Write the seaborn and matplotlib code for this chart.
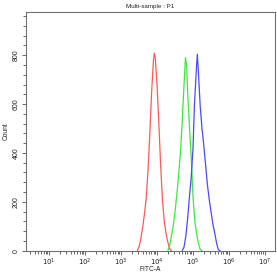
import numpy as np
import pandas as pd
import matplotlib
matplotlib.use("Agg")
import matplotlib.pyplot as plt
import seaborn as sns
from matplotlib.ticker import LogLocator, MultipleLocator, FixedLocator

# log10(FITC-A) bin positions and counts
red_log = [3.45, 3.50, 3.55, 3.60, 3.65, 3.70, 3.75, 3.80, 3.85, 3.90, 3.925, 3.95,
           4.00, 4.05, 4.10, 4.15, 4.20, 4.25, 4.30, 4.35, 4.40]
red_cnt = [0, 15, 50, 95, 150, 215, 330, 480, 650, 780, 808, 790,
           680, 520, 350, 210, 120, 70, 35, 8, 0]

green_log = [4.30, 4.35, 4.40, 4.45, 4.50, 4.55, 4.60, 4.65, 4.70, 4.75, 4.79, 4.82,
             4.85, 4.90, 4.95, 5.00, 5.05, 5.10, 5.15, 5.20, 5.25]
green_cnt = [0, 20, 60, 100, 160, 230, 310, 400, 530, 680, 790, 760,
             650, 510, 380, 220, 120, 70, 30, 5, 0]

blue_log = [4.70, 4.75, 4.80, 4.85, 4.90, 4.95, 5.00, 5.04, 5.07, 5.10, 5.12, 5.15,
            5.20, 5.25, 5.30, 5.35, 5.40, 5.45, 5.50, 5.55, 5.60, 5.65, 5.70, 5.75]
blue_cnt = [0, 15, 60, 130, 220, 300, 420, 600, 680, 760, 804, 730,
            590, 500, 430, 350, 270, 210, 160, 110, 75, 35, 5, 0]

series_names = ["red", "green", "blue"]
series_colors = ["#ff5a5a", "#3ee83e", "#4a4aff"]

y_major = [0, 200, 400, 600, 800]
title_text = "Multi-sample : P1"
xlabel_text = "FITC-A"
ylabel_text = "Count"

rows = []
for name, lx, cy in [("red", red_log, red_cnt), ("green", green_log, green_cnt),
                     ("blue", blue_log, blue_cnt)]:
    for a, b in zip(lx, cy):
        rows.append({"x": 10 ** a, "count": b, "series": name})
df = pd.DataFrame(rows)

sns.set_theme(style="ticks")
plt.rcParams["font.family"] = ["Liberation Sans", "DejaVu Sans"]

fig = plt.figure(figsize=(2.77, 2.75), dpi=100)
ax = fig.add_axes([0.0928, 0.0884, 0.9002, 0.8691])

sns.lineplot(data=df, x="x", y="count", hue="series", hue_order=series_names,
             palette=series_colors, legend=False, linewidth=0.9, ax=ax,
             estimator=None, sort=False)

ax.set_xscale("log")
ax.set_xlim(10 ** 0.35, 10 ** 7.28)
ax.set_ylim(0, 978)

ax.xaxis.set_minor_locator(LogLocator(base=10, subs=np.arange(2, 10), numticks=100))
ax.set_xticks([10 ** k for k in range(1, 8)])
ax.set_xticklabels([r"$10^{%d}$" % k for k in range(1, 8)])

ax.yaxis.set_major_locator(FixedLocator(y_major))
ax.yaxis.set_minor_locator(MultipleLocator(40))
ax.set_yticklabels([str(v) for v in y_major], rotation=90, va="center")

for s in ax.spines.values():
    s.set_color("#707070")
    s.set_linewidth(0.8)

ax.tick_params(axis="both", which="both", direction="out", color="#505050",
               width=0.6, labelsize=5, labelcolor="#222222", pad=1.2)
ax.tick_params(axis="both", which="major", length=3)
ax.tick_params(axis="both", which="minor", length=2.5)

ax.set_title(title_text, fontsize=4.5, color="#222222", pad=2.5)
ax.set_xlabel(xlabel_text, fontsize=4.8, color="#222222", va="center")
ax.xaxis.set_label_coords(0.5, -0.08)
ax.set_ylabel(ylabel_text, fontsize=4.8, color="#222222", labelpad=2)

fig.savefig("out.png", dpi=100)
